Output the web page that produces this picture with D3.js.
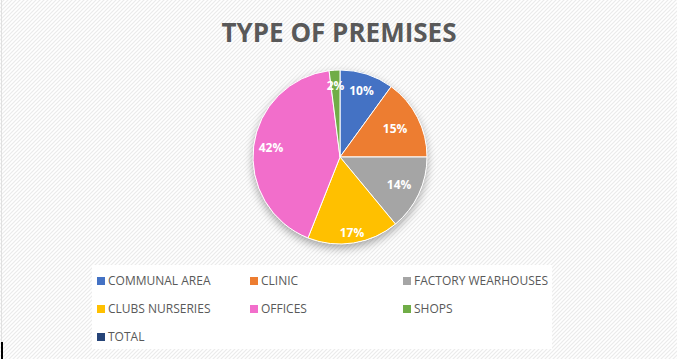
<!DOCTYPE html>
<html>
<head>
<meta charset="utf-8">
<script src="https://cdn.jsdelivr.net/npm/d3@7"></script>
<style>
  html, body { margin: 0; padding: 0; background: #fff; }
  svg { display: block; }
</style>
</head>
<body>
<div class="chart"></div>
<script>
var categories = ["COMMUNAL AREA", "CLINIC", "FACTORY WEARHOUSES", "CLUBS NURSERIES", "OFFICES", "SHOPS", "TOTAL"];
var values = [10, 15, 14, 17, 42, 2, 0];
var colors = ["#4472c4", "#ed7d31", "#a5a5a5", "#ffc000", "#f26ecb", "#70ad47", "#264478"];
// where each data label sits, as a share of the radius (Excel "best fit")
var labelPos = [0.8, 0.71, 0.75, 0.88, 0.8, 0.82, 0.7];

var width = 677, height = 359;
var svg = d3.select(".chart").append("svg").attr("width", width).attr("height", height);
var defs = svg.append("defs");

// light diagonal background pattern
var pat = defs.append("pattern")
    .attr("id", "diag")
    .attr("patternUnits", "userSpaceOnUse")
    .attr("width", 4).attr("height", 4);
pat.append("rect").attr("width", 4).attr("height", 4).attr("fill", "#ffffff");
pat.append("path").attr("d", "M-1,1 l2,-2 M0,4 l4,-4 M3,5 l2,-2")
    .attr("stroke", "#ebebeb").attr("stroke-width", 1.2);

var shadow = defs.append("filter").attr("id", "shadow")
    .attr("x", "-30%").attr("y", "-30%").attr("width", "160%").attr("height", "160%");
shadow.append("feGaussianBlur").attr("in", "SourceAlpha").attr("stdDeviation", 5);
shadow.append("feOffset").attr("dy", 4).attr("result", "b");
shadow.append("feComponentTransfer").append("feFuncA").attr("type", "linear").attr("slope", 0.35);
var merge = shadow.append("feMerge");
merge.append("feMergeNode");
merge.append("feMergeNode").attr("in", "SourceGraphic");

svg.append("rect").attr("width", width).attr("height", height).attr("fill", "url(#diag)");
svg.append("line").attr("x1", 1.5).attr("x2", 1.5).attr("y1", 0).attr("y2", height)
    .attr("stroke", "#e0e0e0");
svg.append("line").attr("x1", 2).attr("x2", 2).attr("y1", 342).attr("y2", height)
    .attr("stroke", "#000").attr("stroke-width", 2);

// title
svg.append("text")
    .attr("x", 339).attr("y", 42)
    .attr("text-anchor", "middle")
    .style("font", "bold 26px 'Open Sans', sans-serif")
    .attr("fill", "#595959")
    .text("TYPE OF PREMISES");

// pie
var cx = 340, cy = 157, radius = 87;
var g = svg.append("g").attr("transform", "translate(" + cx + "," + cy + ")");

var data = categories.map(function(c, i) {
  return {name: c, value: values[i], color: colors[i], lp: labelPos[i]};
});

var pie = d3.pie().sort(null).value(function(d) { return d.value; });
var arc = d3.arc().outerRadius(radius).innerRadius(0);

g.append("circle").attr("r", radius).attr("fill", "#fff").attr("filter", "url(#shadow)");

var slices = g.selectAll(".arc")
    .data(pie(data).filter(function(d) { return d.data.value > 0; }))
    .enter().append("g").attr("class", "arc");

slices.append("path")
    .attr("d", arc)
    .attr("fill", function(d) { return d.data.color; })
    .style("stroke", "#fff")
    .style("stroke-width", 1);

var total = d3.sum(values);
slices.append("text")
    .attr("transform", function(d) {
      var r = radius * d.data.lp;
      var c = d3.arc().innerRadius(r).outerRadius(r).centroid(d);
      return "translate(" + c + ")";
    })
    .attr("dy", "0.35em")
    .style("text-anchor", "middle")
    .style("font", "bold 12px 'Open Sans', sans-serif")
    .attr("fill", "#fff")
    .text(function(d) { return Math.round(d.data.value / total * 100) + "%"; });

// legend
svg.append("rect").attr("x", 92).attr("y", 265).attr("width", 460).attr("height", 84).attr("fill", "#fff");

var colX = [97, 250, 403];
var rowY = [281, 309, 337];
var legend = svg.selectAll(".legend")
    .data(data)
    .enter().append("g")
    .attr("class", "legend")
    .attr("transform", function(d, i) {
      return "translate(" + colX[i % 3] + "," + rowY[Math.floor(i / 3)] + ")";
    });

legend.append("rect")
    .attr("x", 0).attr("y", -4)
    .attr("width", 8).attr("height", 8)
    .attr("fill", function(d) { return d.color; });

legend.append("text")
    .attr("x", 11).attr("y", 0)
    .attr("dy", "0.35em")
    .style("font", "12px 'Open Sans', sans-serif")
    .attr("fill", "#595959")
    .text(function(d) { return d.name; });
</script>
</body>
</html>
